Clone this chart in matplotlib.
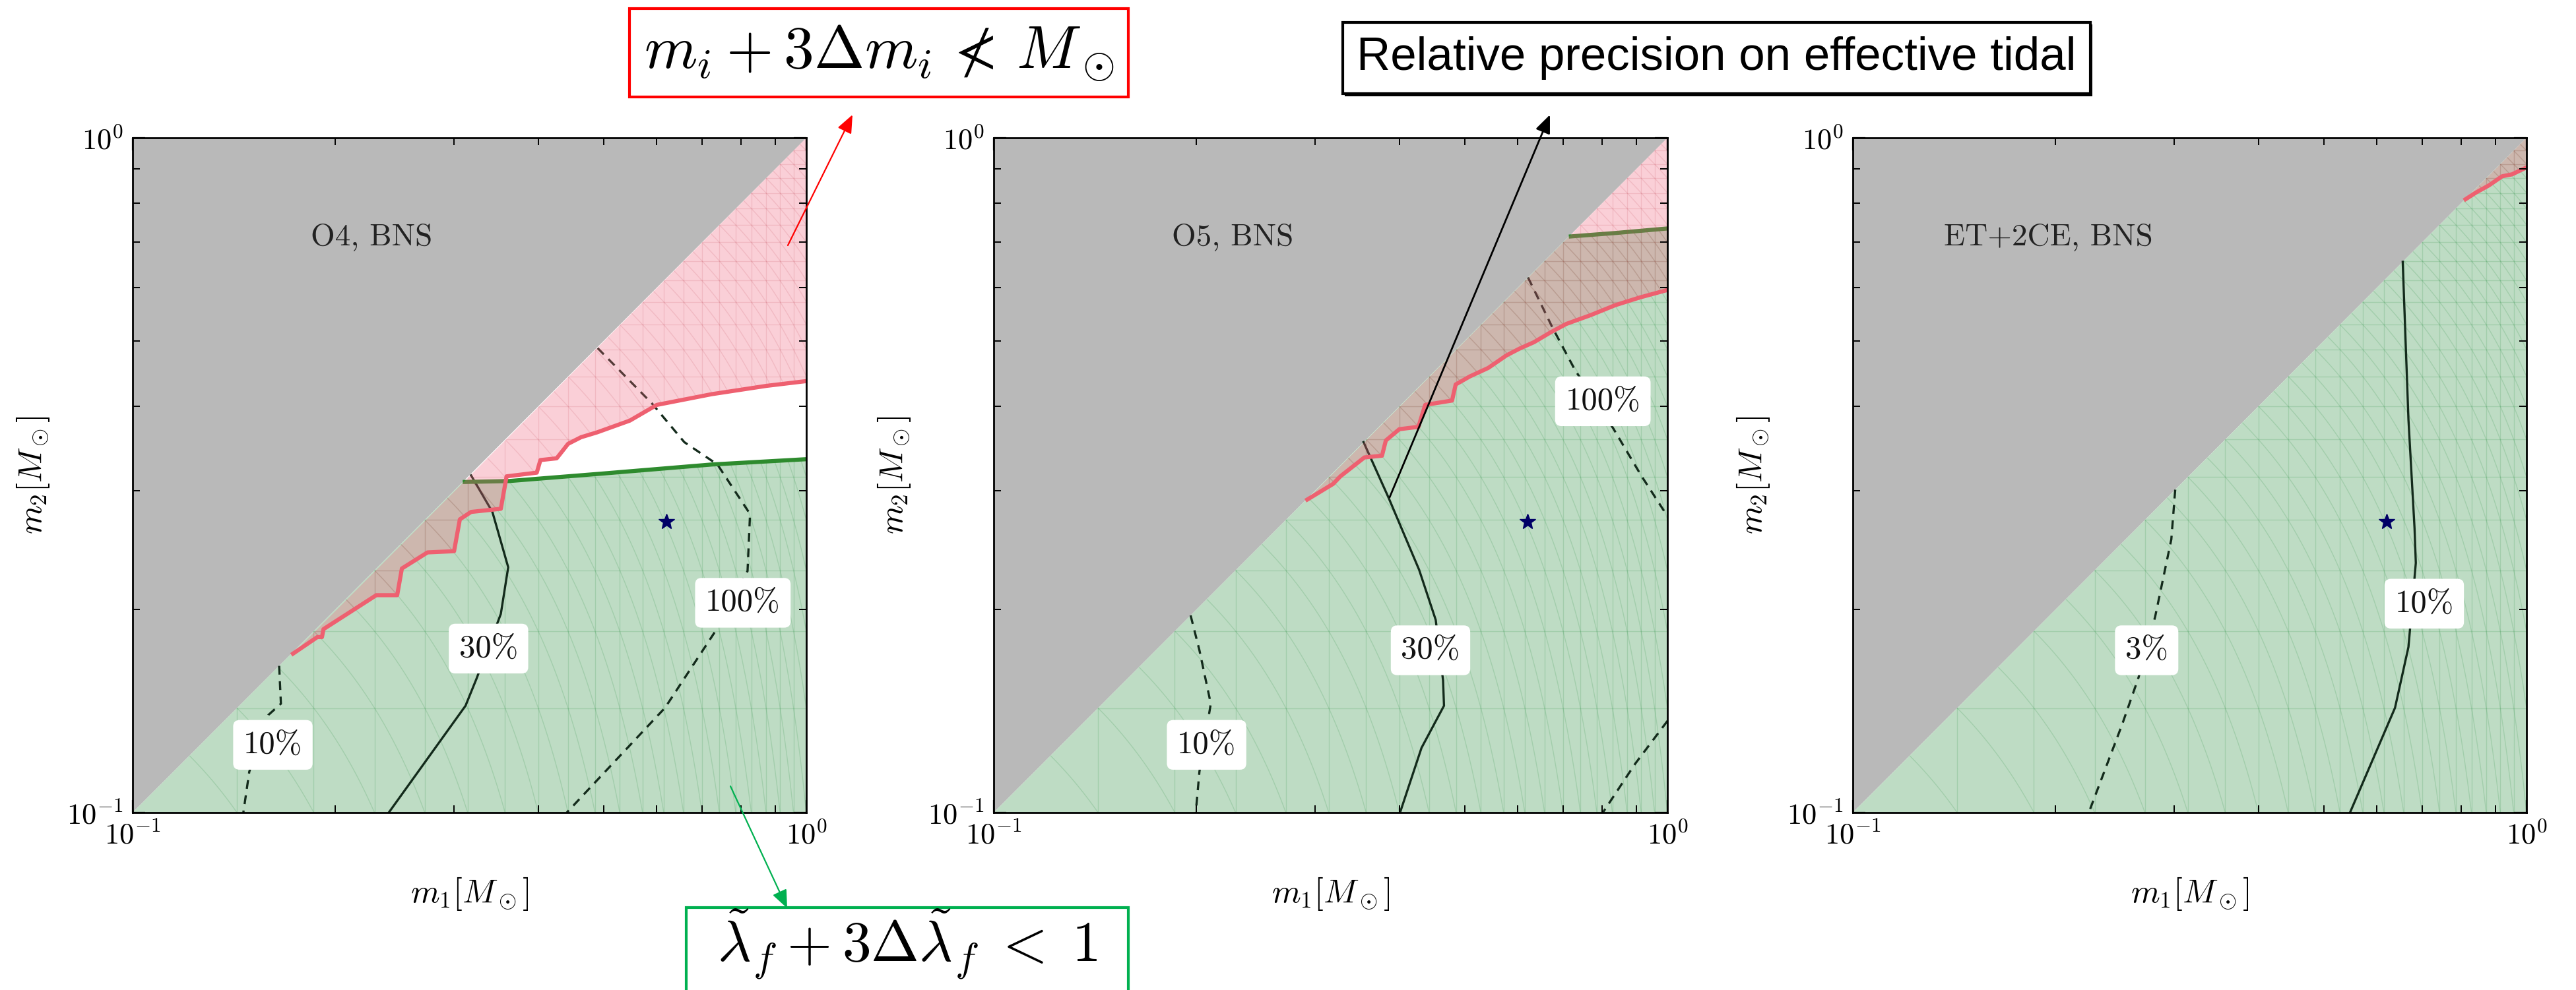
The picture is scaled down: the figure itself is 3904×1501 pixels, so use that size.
import matplotlib
matplotlib.use("Agg")
import matplotlib.pyplot as plt
import numpy as np
from matplotlib.patches import Polygon, FancyArrowPatch, Rectangle
from matplotlib.collections import LineCollection
from matplotlib import patheffects as pe
from matplotlib.ticker import FixedLocator, FixedFormatter, NullFormatter

plt.rcParams["mathtext.fontset"] = "cm"

panel_titles = ["O4, BNS", "O5, BNS", "ET+2CE, BNS"]
tick_values = [0.1, 1.0]
tick_labels = [r"$10^{-1}$", r"$10^{0}$"]
minor_values = [0.2, 0.3, 0.4, 0.5, 0.6, 0.7, 0.8, 0.9]

# injected binary (star)
star_m1 = 0.62
star_m2 = 0.27

# ---- O4 ----
o4_red_m1 = [0.173, 0.188, 0.191, 0.192, 0.230, 0.247, 0.251, 0.274, 0.300, 0.306,
             0.318, 0.352, 0.359, 0.398, 0.403, 0.426, 0.443, 0.463, 0.489, 0.547,
             0.600, 0.724, 0.873, 1.0]
o4_red_m2 = [0.172, 0.182, 0.182, 0.187, 0.210, 0.210, 0.230, 0.243, 0.244, 0.272,
             0.279, 0.282, 0.315, 0.319, 0.333, 0.335, 0.352, 0.360, 0.366, 0.381,
             0.402, 0.417, 0.429, 0.436]
o4_green_m1 = [0.309, 0.362, 0.498, 0.724, 1.0]
o4_green_m2 = [0.309, 0.310, 0.318, 0.328, 0.334]
o4_c10_m1 = [0.165, 0.166, 0.159, 0.149, 0.146]
o4_c10_m2 = [0.165, 0.145, 0.1395, 0.115, 0.1]
o4_c30_m1 = [0.318, 0.342, 0.361, 0.352, 0.324, 0.312, 0.240]
o4_c30_m2 = [0.316, 0.279, 0.231, 0.197, 0.158, 0.144, 0.1]
o4_c100_m1 = [0.490, 0.590, 0.659, 0.738, 0.825, 0.818, 0.731, 0.617, 0.441]
o4_c100_m2 = [0.488, 0.404, 0.354, 0.328, 0.277, 0.228, 0.185, 0.143, 0.1]
o4_labels = ["10%", "30%", "100%"]
o4_label_m1 = [0.1615, 0.3375, 0.805]
o4_label_m2 = [0.126, 0.175, 0.2046]

# ---- O5 ----
o5_red_m1 = [0.292, 0.319, 0.327, 0.355, 0.377, 0.382, 0.400, 0.427, 0.437, 0.479,
             0.485, 0.509, 0.542, 0.577, 0.603, 0.634, 0.671, 0.708, 0.769, 0.837,
             0.910, 1.0]
o5_red_m2 = [0.291, 0.307, 0.315, 0.336, 0.338, 0.356, 0.370, 0.373, 0.402, 0.408,
             0.431, 0.443, 0.456, 0.476, 0.487, 0.498, 0.515, 0.530, 0.546, 0.565,
             0.580, 0.595]
o5_green_m1 = [0.714, 0.841, 1.0]
o5_green_m2 = [0.714, 0.723, 0.734]
o5_c10_m1 = [0.196, 0.202, 0.210, 0.202, 0.1995]
o5_c10_m2 = [0.196, 0.174, 0.145, 0.115, 0.1]
o5_c30_m1 = [0.354, 0.3855, 0.428, 0.453, 0.4645, 0.466, 0.4315, 0.401]
o5_c30_m2 = [0.354, 0.293, 0.229, 0.193, 0.157, 0.144, 0.1247, 0.1]
o5_c100a_m1 = [0.621, 0.676, 0.729, 0.831, 0.914, 1.0]
o5_c100a_m2 = [0.621, 0.522, 0.453, 0.371, 0.316, 0.275]
o5_c100b_m1 = [1.0, 0.895, 0.802]
o5_c100b_m2 = [0.1367, 0.118, 0.1]
o5_labels = ["10%", "30%", "100%"]
o5_label_m1 = [0.207, 0.445, 0.802]
o5_label_m2 = [0.126, 0.174, 0.407]

# ---- ET+2CE ----
et_red_m1 = [0.812, 0.841, 0.879, 0.920, 0.952, 1.0]
et_red_m2 = [0.811, 0.8295, 0.850, 0.877, 0.883, 0.904]
et_c3_m1 = [0.301, 0.297, 0.281, 0.2655, 0.251, 0.224]
et_c3_m2 = [0.301, 0.254, 0.195, 0.1585, 0.135, 0.1]
et_c10_m1 = [0.655, 0.668, 0.682, 0.685, 0.668, 0.638, 0.547]
et_c10_m2 = [0.655, 0.382, 0.264, 0.2344, 0.176, 0.143, 0.1]
et_labels = ["3%", "10%"]
et_label_m1 = [0.273, 0.705]
et_label_m2 = [0.174, 0.204]

GRAY = "#b9b9b9"
GREEN_FILL = "#bedcc4"
PINK_FILL = (0.94, 0.39, 0.49)
RED_LINE = "#ee6070"
GREEN_LINE = "#2e8b2e"
CONTOUR = "#132a1b"
DASHED = (0, (4, 3))


def mesh_segments():
    # triangulated sampling mesh of the region plot
    knots = np.linspace(0.1, 1.0, 22)
    segs = []
    for k in knots[1:-1]:
        segs.append([(k, 0.1), (k, 1.0)])
        segs.append([(0.1, k), (1.0, k)])
    for c in np.linspace(0.2, 2.0, 43)[1:-1]:
        x = np.linspace(max(0.1, c - 1.0), min(1.0, c - 0.1), 80)
        segs.append(np.column_stack([x, c - x]))
    return segs


def draw_panel(ax, title, red, green, contours, labels):
    ax.set_xscale("log")
    ax.set_yscale("log")
    ax.set_xlim(0.1, 1.0)
    ax.set_ylim(0.1, 1.0)

    # m2 > m1 excluded
    ax.add_patch(Polygon([(0.1, 0.1), (1.0, 1.0), (0.1, 1.0)], closed=True,
                         facecolor=GRAY, edgecolor="none", zorder=1))

    # tidal constraint region
    if green is None:
        green_pts = [(0.1, 0.1), (1.0, 1.0), (1.0, 0.1)]
    else:
        green_pts = [(0.1, 0.1)] + list(zip(*green)) + [(1.0, 0.1)]
    g_patch = Polygon(green_pts, closed=True, facecolor=GREEN_FILL,
                      edgecolor="none", zorder=1.5)
    ax.add_patch(g_patch)
    g_mesh = LineCollection(mesh_segments(), colors="#3f9a55", linewidths=1.0,
                            alpha=0.22, zorder=1.6)
    ax.add_collection(g_mesh)
    g_mesh.set_clip_path(g_patch)

    for m1, m2, ls in contours:
        ax.plot(m1, m2, color=CONTOUR, lw=2.4, linestyle=ls, zorder=2)

    if green is not None:
        ax.plot(green[0], green[1], color=GREEN_LINE, lw=4.5, zorder=2.2,
                solid_capstyle="butt")

    # mass constraint region
    pink_pts = list(zip(*red)) + [(1.0, 1.0)]
    p_patch = Polygon(pink_pts, closed=True, facecolor=PINK_FILL, alpha=0.3,
                      edgecolor="none", zorder=3)
    ax.add_patch(p_patch)
    p_mesh = LineCollection(mesh_segments(), colors="#c04050", linewidths=1.0,
                            alpha=0.15, zorder=3.1)
    ax.add_collection(p_mesh)
    p_mesh.set_clip_path(p_patch)
    ax.plot(red[0], red[1], color=RED_LINE, lw=4.5, zorder=3.5)

    ax.plot([star_m1], [star_m2], marker="*", color="#000066", markersize=18,
            linestyle="none", zorder=4)

    for text, x, y in labels:
        ax.text(x, y, text, ha="center", va="center", fontsize=35,
                family="cmr10", color="#111111", zorder=5,
                bbox=dict(boxstyle="round,pad=0.32,rounding_size=0.2",
                          facecolor="white", edgecolor="none"))

    ax.text(0.445, 0.852, title, transform=ax.transAxes, ha="right",
            va="center", fontsize=34, family="cmr10", color="#222222", zorder=5)

    ax.xaxis.set_major_locator(FixedLocator(tick_values))
    ax.yaxis.set_major_locator(FixedLocator(tick_values))
    ax.xaxis.set_major_formatter(FixedFormatter(tick_labels))
    ax.yaxis.set_major_formatter(FixedFormatter(tick_labels))
    ax.xaxis.set_minor_locator(FixedLocator(minor_values))
    ax.yaxis.set_minor_locator(FixedLocator(minor_values))
    ax.xaxis.set_minor_formatter(NullFormatter())
    ax.yaxis.set_minor_formatter(NullFormatter())
    ax.tick_params(which="both", direction="in", top=True, right=True,
                   labelsize=32, pad=10)
    ax.tick_params(which="major", length=14, width=1.6)
    ax.tick_params(which="minor", length=8, width=1.4)

    ax.set_xlabel(r"$m_1[M_\odot]$", fontsize=36)
    ax.set_ylabel(r"$m_2[M_\odot]$", fontsize=36)
    ax.xaxis.set_label_coords(0.5, -0.12)
    ax.xaxis.label.set_va("center")
    ax.yaxis.set_label_coords(-0.148, 0.5)
    ax.yaxis.label.set_va("center")

    for spine in ax.spines.values():
        spine.set_linewidth(2.0)
        spine.set_zorder(10)
    ax.xaxis.set_zorder(10)
    ax.yaxis.set_zorder(10)


fig = plt.figure(figsize=(39.05, 15.01), dpi=100)
W, H = 3905.0, 1501.0
lefts = [201, 1506, 2808]
axes = [fig.add_axes([l / W, 1 - 1232 / H, 1021 / W, 1023 / H]) for l in lefts]

draw_panel(axes[0], panel_titles[0], (o4_red_m1, o4_red_m2), (o4_green_m1, o4_green_m2),
           [(o4_c10_m1, o4_c10_m2, DASHED),
            (o4_c30_m1, o4_c30_m2, "-"),
            (o4_c100_m1, o4_c100_m2, DASHED)],
           list(zip(o4_labels, o4_label_m1, o4_label_m2)))

draw_panel(axes[1], panel_titles[1], (o5_red_m1, o5_red_m2), (o5_green_m1, o5_green_m2),
           [(o5_c10_m1, o5_c10_m2, DASHED),
            (o5_c30_m1, o5_c30_m2, "-"),
            (o5_c100a_m1, o5_c100a_m2, DASHED),
            (o5_c100b_m1, o5_c100b_m2, DASHED)],
           list(zip(o5_labels, o5_label_m1, o5_label_m2)))

draw_panel(axes[2], panel_titles[2], (et_red_m1, et_red_m2), None,
           [(et_c3_m1, et_c3_m2, DASHED),
            (et_c10_m1, et_c10_m2, "-")],
           list(zip(et_labels, et_label_m1, et_label_m2)))


def fig_xy(px, py):
    return (px / W, 1 - py / H)


# callout boxes
fig.text(*fig_xy(1332, 80), r"$m_i + 3\Delta m_i \,\nless\, M_\odot$", fontsize=66,
         ha="center", va="center",
         bbox=dict(boxstyle="square,pad=0.24", facecolor="white",
                   edgecolor="#ff0000", linewidth=3))

t = fig.text(*fig_xy(2601, 88), "Relative precision on effective tidal",
             fontsize=51, family="Liberation Sans", ha="center", va="center",
             bbox=dict(boxstyle="square,pad=0.3", facecolor="white",
                       edgecolor="black", linewidth=3))
t.get_bbox_patch().set_path_effects([
    pe.SimplePatchShadow(offset=(2.5, -2.5), shadow_rgbFace="black", alpha=1.0),
    pe.Normal()])

# green box runs past the bottom edge of the figure
x0, y0 = fig_xy(1040, 1540)
x1, y1 = fig_xy(1710, 1376)
fig.add_artist(Rectangle((x0, y0), x1 - x0, y1 - y0, transform=fig.transFigure,
                         facecolor="white", edgecolor="#00b050", linewidth=3,
                         zorder=5))
fig.text(*fig_xy(1375, 1432), r"$\tilde{\lambda}_f + 3\Delta\tilde{\lambda}_f \;<\; 1$",
         fontsize=63, ha="center", va="center", zorder=6)

arrows = [
    ((1194, 372), (1292, 174), "#ff0000", 1.6),
    ((2106, 754), (2349, 174), "black", 2.0),
    ((1107, 1192), (1193, 1377), "#00b050", 1.6),
]
for start, end, color, lw in arrows:
    fig.add_artist(FancyArrowPatch(fig_xy(*start), fig_xy(*end),
                                   transform=fig.transFigure,
                                   arrowstyle="-|>,head_length=0.6,head_width=0.25",
                                   mutation_scale=28, color=color, lw=lw,
                                   shrinkA=0, shrinkB=0, zorder=7))

fig.savefig("out.png", dpi=100)
print("Saved: out.png")
